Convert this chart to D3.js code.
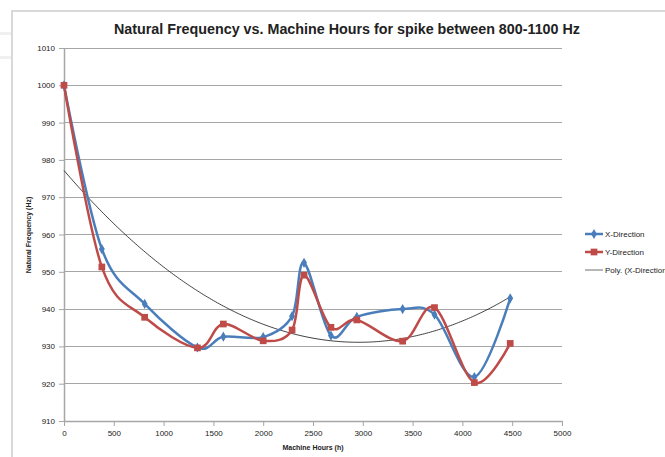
<!DOCTYPE html>
<html>
<head>
<meta charset="utf-8">
<script src="https://cdn.jsdelivr.net/npm/d3@7"></script>
<style>
  html, body { margin: 0; padding: 0; background: #fff; overflow: hidden; }
  text { font-family: "Liberation Sans", Arial, sans-serif; fill: #222; }
</style>
</head>
<body>
<div id="chart"></div>
<script>
'use strict';

// data
const hours = [0, 380, 810, 1340, 1600, 2000, 2290, 2410, 2680, 2940, 3400, 3720, 4120, 4480];
const xDirection = [1000, 956.1, 941.4, 929.7, 932.6, 932.5, 938.1, 952.4, 932.9, 937.9, 940.0, 938.5, 921.8, 942.9];
const yDirection = [1000, 951.3, 937.8, 929.6, 936.0, 931.5, 934.4, 949.1, 935.1, 937.1, 931.4, 940.4, 920.3, 930.8];
const xTicks = [0, 500, 1000, 1500, 2000, 2500, 3000, 3500, 4000, 4500, 5000];
const yTicks = [910, 920, 930, 940, 950, 960, 970, 980, 990, 1000, 1010];
const seriesNames = ['X-Direction', 'Y-Direction', 'Poly. (X-Direction)'];

const W = 665, H = 457;
const plot = {left: 64, right: 562, top: 48, bottom: 421};
const BLUE = '#4a7ebb', RED = '#be4b48', GRID = '#a6a6a6';

const svg = d3.select('#chart').append('svg')
  .attr('width', W).attr('height', H);

// faint page background behind the chart
svg.append('rect').attr('width', W).attr('height', H).attr('fill', '#fff');
[33, 57].forEach(y => svg.append('rect')
  .attr('x', 0).attr('y', y - 1).attr('width', 11).attr('height', 3).attr('fill', '#f0f0f0'));

// chart frame
svg.append('path')
  .attr('d', `M12,${H + 5}V11H${W + 5}`)
  .attr('fill', 'none').attr('stroke', '#d9d9d9').attr('stroke-width', 2);

const x = d3.scaleLinear().domain([0, 5000]).range([plot.left, plot.right]);
const y = d3.scaleLinear().domain([910, 1010]).range([plot.bottom, plot.top]);

// gridlines
svg.append('g')
  .selectAll('line')
  .data(yTicks.slice(1))
  .enter().append('line')
  .attr('x1', plot.left).attr('x2', plot.right)
  .attr('y1', d => y(d)).attr('y2', d => y(d))
  .attr('stroke', GRID).attr('stroke-width', 1)
  .attr('shape-rendering', 'crispEdges');

// y axis
const yAxis = svg.append('g')
  .attr('transform', `translate(${plot.left},0)`)
  .call(d3.axisLeft(y).tickValues(yTicks).tickFormat(d3.format('d'))
    .tickSize(5).tickSizeOuter(0).tickPadding(4));
yAxis.select('.domain').attr('stroke', GRID).attr('stroke-width', 1.5);
yAxis.selectAll('.tick line').attr('stroke', GRID);
yAxis.selectAll('.tick text').style('font-size', '8px').attr('fill', '#333');

// x axis
const xAxis = svg.append('g')
  .attr('transform', `translate(0,${plot.bottom})`)
  .call(d3.axisBottom(x).tickValues(xTicks).tickFormat(d3.format('d'))
    .tickSize(5).tickSizeOuter(0).tickPadding(4));
xAxis.select('.domain').attr('stroke', GRID).attr('stroke-width', 1.5);
xAxis.selectAll('.tick line').attr('stroke', GRID);
xAxis.selectAll('.tick text').style('font-size', '8px').attr('fill', '#333');

// titles
svg.append('text')
  .attr('x', 347).attr('y', 34)
  .attr('text-anchor', 'middle')
  .attr('textLength', 466).attr('lengthAdjust', 'spacingAndGlyphs')
  .style('font-size', '14px').style('font-weight', 'bold')
  .attr('fill', '#000')
  .text('Natural Frequency vs. Machine Hours for spike between 800-1100 Hz');

svg.append('text')
  .attr('x', 313).attr('y', 450)
  .attr('text-anchor', 'middle')
  .style('font-size', '7px').style('font-weight', 'bold')
  .text('Machine Hours (h)');

svg.append('text')
  .attr('transform', 'translate(31,235) rotate(-90)')
  .attr('text-anchor', 'middle')
  .style('font-size', '7px').style('font-weight', 'bold')
  .text('Natural Frequency (Hz)');

// quadratic least-squares trendline of the X-direction series
const polyFit = (xs, ys) => {
  const s = [0, 0, 0, 0, 0], t = [0, 0, 0];
  xs.forEach((xv, i) => {
    for (let k = 0; k < 5; k++) s[k] += Math.pow(xv, k);
    for (let k = 0; k < 3; k++) t[k] += Math.pow(xv, k) * ys[i];
  });
  const A = [[s[0], s[1], s[2], t[0]], [s[1], s[2], s[3], t[1]], [s[2], s[3], s[4], t[2]]];
  for (let c = 0; c < 3; c++) {
    for (let r = c + 1; r < 3; r++) {
      const f = A[r][c] / A[c][c];
      for (let k = c; k < 4; k++) A[r][k] -= f * A[c][k];
    }
  }
  const coef = [0, 0, 0];
  for (let r = 2; r >= 0; r--) {
    let v = A[r][3];
    for (let k = r + 1; k < 3; k++) v -= A[r][k] * coef[k];
    coef[r] = v / A[r][r];
  }
  return coef;
};
const hk = hours.map(h => h / 1000);
const coef = polyFit(hk, xDirection);
const trendPts = d3.range(0, 4480 + 1, 20).map(h => {
  const t = h / 1000;
  return [h, coef[0] + coef[1] * t + coef[2] * t * t];
});

const graph = svg.append('g');

graph.append('path')
  .datum(trendPts)
  .attr('fill', 'none').attr('stroke', '#111').attr('stroke-width', 0.8)
  .attr('d', d3.line().x(d => x(d[0])).y(d => y(d[1])));

const smooth = d3.line()
  .x(d => x(d[0])).y(d => y(d[1]))
  .curve(d3.curveCardinal.tension(0));

const series = [
  {name: seriesNames[0], values: xDirection, color: BLUE, symbol: d3.symbolDiamond, size: 30},
  {name: seriesNames[1], values: yDirection, color: RED, symbol: d3.symbolSquare, size: 45}
];

series.forEach(s => {
  const pts = hours.map((h, i) => [h, s.values[i]]);
  graph.append('path')
    .datum(pts)
    .attr('fill', 'none').attr('stroke', s.color).attr('stroke-width', 2.5)
    .attr('d', smooth);
});

series.forEach(s => {
  graph.append('g')
    .selectAll('path')
    .data(hours.map((h, i) => [h, s.values[i]]))
    .enter().append('path')
    .attr('transform', d => `translate(${x(d[0])},${y(d[1])})`)
    .attr('d', d3.symbol().type(s.symbol).size(s.size))
    .attr('fill', s.color);
});

// legend (clipped at the right edge, as in the original)
const legend = svg.append('g').attr('transform', 'translate(585,234)');
const legendRow = legend.selectAll('g')
  .data(seriesNames)
  .enter().append('g')
  .attr('transform', (d, i) => `translate(0,${i * 18})`);

legendRow.append('line')
  .attr('x1', 0).attr('x2', 18).attr('y1', 0).attr('y2', 0)
  .attr('stroke', (d, i) => i === 0 ? BLUE : i === 1 ? RED : '#888')
  .attr('stroke-width', (d, i) => i === 2 ? 1.2 : 2.5);

legendRow.filter((d, i) => i < 2).append('path')
  .attr('transform', 'translate(9,0)')
  .attr('d', (d, i) => d3.symbol().type(series[i].symbol).size(series[i].size)())
  .attr('fill', (d, i) => series[i].color);

legendRow.append('text')
  .attr('x', 20).attr('y', 3)
  .style('font-size', '8px')
  .text(d => d);
</script>
</body>
</html>
